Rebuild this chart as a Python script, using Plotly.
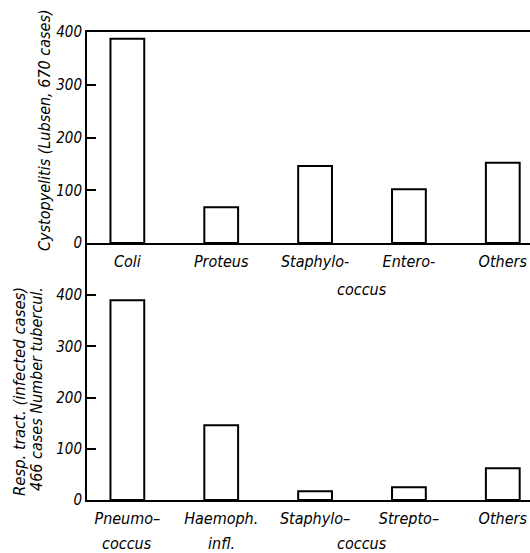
import plotly.graph_objects as go

# ---- data ----
top_labels = ["Coli", "Proteus", "Staphylo-", "Entero-", "Others"]
top_values = [387, 68, 146, 102, 152]
bottom_labels = ["Pneumo–", "Haemoph.", "Staphylo–", "Strepto–", "Others"]
bottom_second_lines = ["coccus", "infl.", "", "", ""]
bottom_values = [390, 146, 17, 25, 62]
y_ticks = [0, 100, 200, 300, 400]
top_title = "Cystopyelitis (Lubsen, 670 cases)"
bottom_title_1 = "Resp. tract. (infected cases)"
bottom_title_2 = "466 cases Number tubercul."
shared_suffix = "coccus"

FONT = "Liberation Sans Narrow, DejaVu Sans Condensed, Liberation Sans, Arial"
idx = list(range(len(top_labels)))

W, H = 530, 553
ML, MR, MT, MB = 87, 0, 32, 53
plot_h = H - MT - MB
split = (500 - 243) / plot_h  # paper y of top panel's zero line

fig = go.Figure()
bar_style = dict(marker=dict(color="white", line=dict(color="black", width=2)),
                 width=0.36, showlegend=False, hoverinfo="skip")
fig.add_trace(go.Bar(x=idx, y=top_values, xaxis="x", yaxis="y", **bar_style))
fig.add_trace(go.Bar(x=idx, y=bottom_values, xaxis="x2", yaxis="y2", **bar_style))

xcommon = dict(range=[-0.43, 4.29], showgrid=False, zeroline=False, showline=True,
               linecolor="black", linewidth=2, ticks="", tickvals=idx,
               ticklabelstandoff=3,
               tickfont=dict(family=FONT, size=16, color="black", style="italic"))
ycommon = dict(showgrid=False, zeroline=False, showline=True, linecolor="black",
               linewidth=2, ticks="inside", ticklen=9, tickwidth=2, tickcolor="black",
               tickvals=y_ticks,
               tickfont=dict(family=FONT, size=15, color="black", style="italic"))

fig.update_layout(
    width=W, height=H,
    margin=dict(l=ML, r=MR, t=MT, b=MB),
    paper_bgcolor="white", plot_bgcolor="white",
    xaxis=dict(anchor="y", domain=[0, 1], mirror=True, ticktext=top_labels, **xcommon),
    yaxis=dict(anchor="x", domain=[split, 1], range=[0, 400], **ycommon),
    xaxis2=dict(anchor="y2", domain=[0, 1], ticktext=bottom_labels, **xcommon),
    yaxis2=dict(anchor="x2", domain=[0, split], range=[0, 257 / 0.5125], **ycommon),
)

tfont = dict(family=FONT, size=16, color="black", style="italic")
ann = [
    dict(text=top_title, x=44, y=130, size=16),
    dict(text=bottom_title_1, x=20, y=392, size=16.5),
    dict(text=bottom_title_2, x=36, y=389, size=16),
]
for a in ann:
    fig.add_annotation(text=a["text"], textangle=-90,
                       xref="paper", yref="paper",
                       x=(a["x"] - ML) / (W - ML - MR), y=(H - MB - a["y"]) / plot_h,
                       xanchor="center", yanchor="middle", showarrow=False,
                       font=dict(family=FONT, size=a["size"], color="black", style="italic"))

# second lines of bottom labels
for i, t in zip(idx, bottom_second_lines):
    if t:
        fig.add_annotation(text=t, xref="x2", yref="paper", x=i,
                           y=(H - MB - 543) / plot_h, xanchor="center", yanchor="middle",
                           showarrow=False, font=tfont)

# shared "coccus" under the two hyphenated labels
fig.add_annotation(text=shared_suffix, xref="x", yref="paper", x=2.5,
                   y=(H - MB - 289) / plot_h, xanchor="center", yanchor="middle",
                   showarrow=False, font=tfont)
fig.add_annotation(text=shared_suffix, xref="x2", yref="paper", x=2.5,
                   y=(H - MB - 543) / plot_h, xanchor="center", yanchor="middle",
                   showarrow=False, font=tfont)

fig.write_html("out.html", config={"displayModeBar": False},
               post_script="document.body.style.margin='0';document.body.style.overflow='hidden';")
